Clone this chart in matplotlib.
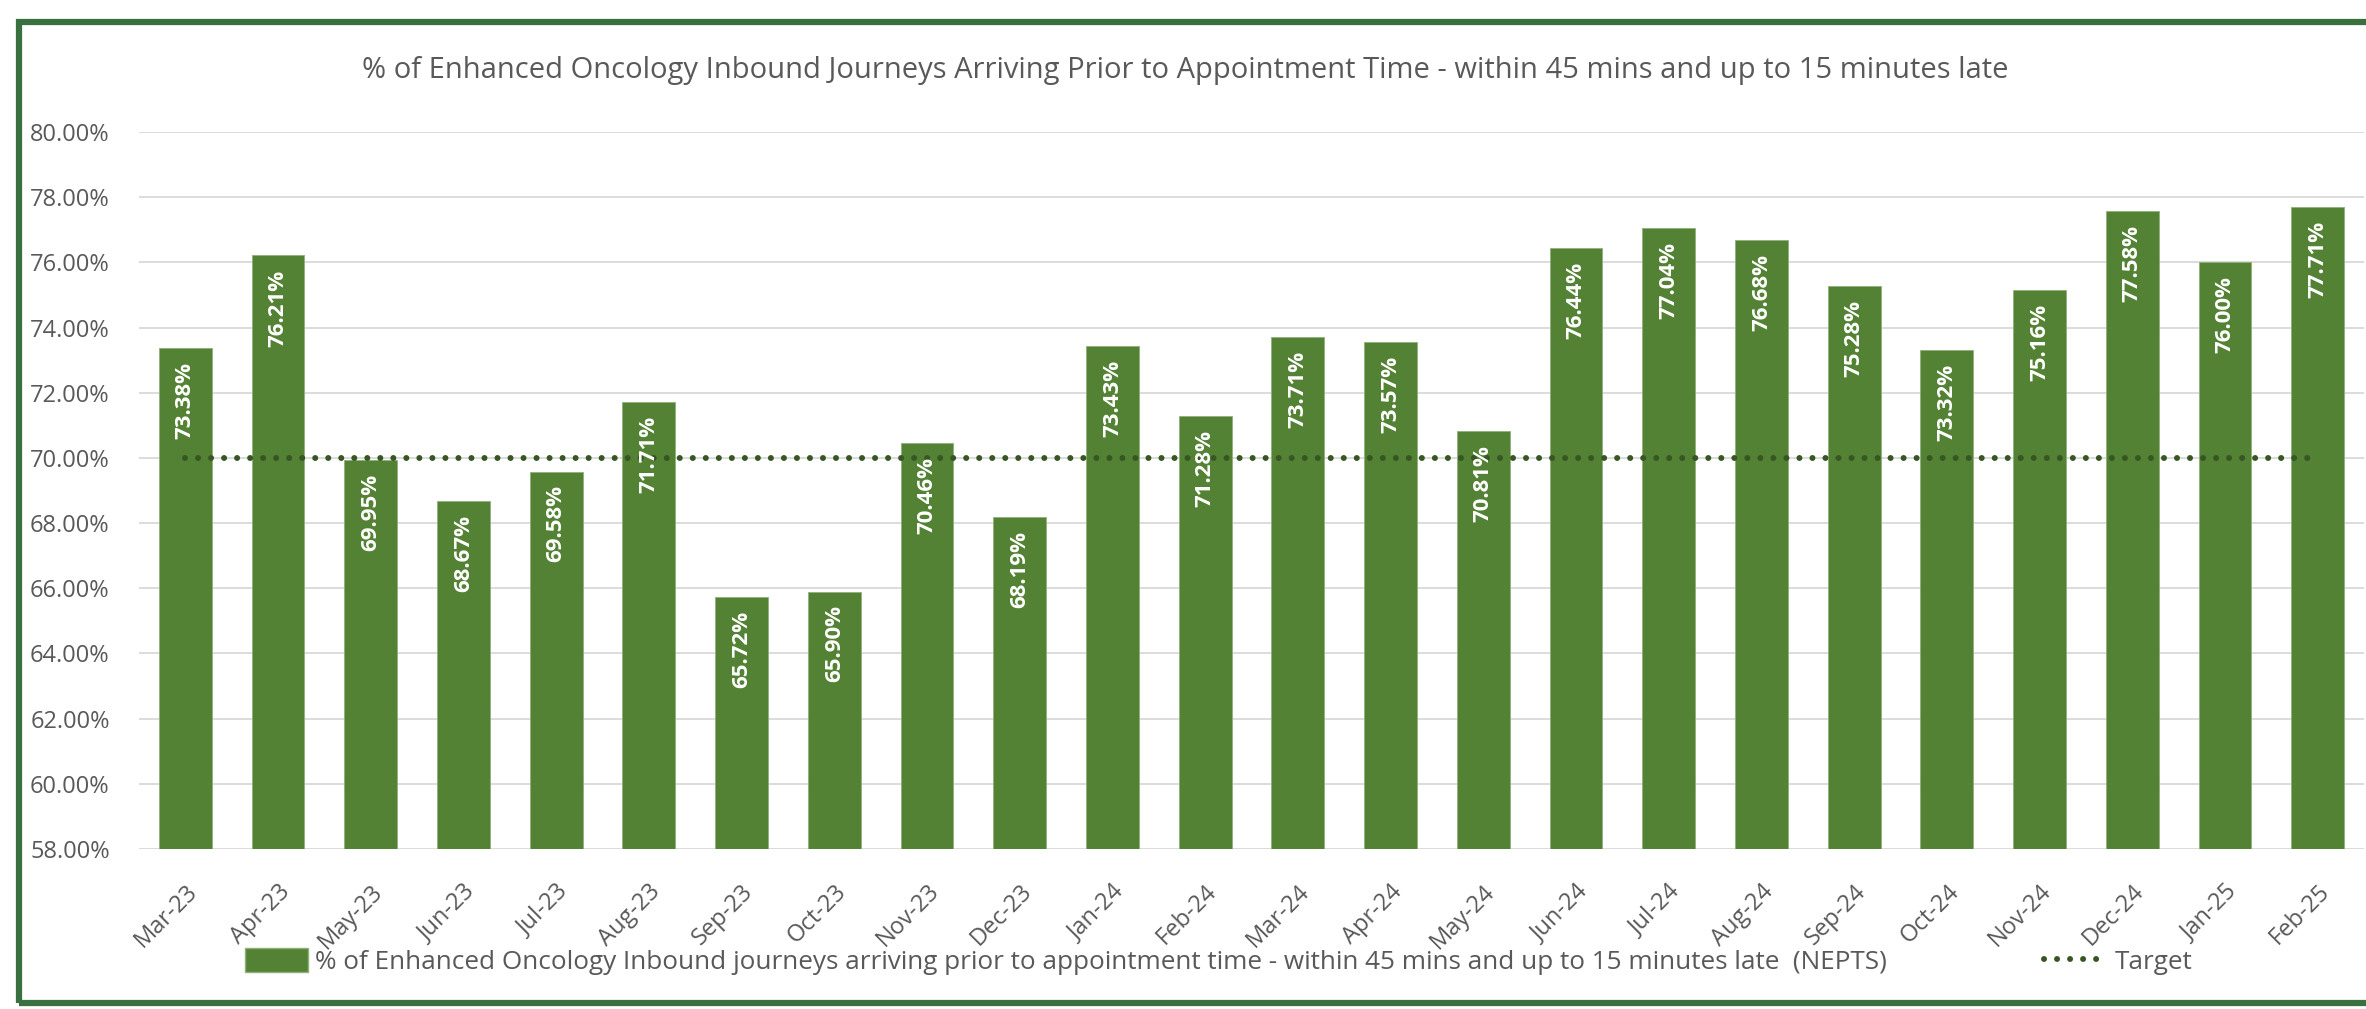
import matplotlib.pyplot as plt
from matplotlib.patches import Rectangle, Patch
from matplotlib.lines import Line2D

plt.rcParams['font.family'] = ['Open Sans', 'DejaVu Sans']

months = ['Mar-23', 'Apr-23', 'May-23', 'Jun-23', 'Jul-23', 'Aug-23', 'Sep-23', 'Oct-23',
          'Nov-23', 'Dec-23', 'Jan-24', 'Feb-24', 'Mar-24', 'Apr-24', 'May-24', 'Jun-24',
          'Jul-24', 'Aug-24', 'Sep-24', 'Oct-24', 'Nov-24', 'Dec-24', 'Jan-25', 'Feb-25']
pct_on_time = [73.38, 76.21, 69.95, 68.67, 69.58, 71.71, 65.72, 65.90,
               70.46, 68.19, 73.43, 71.28, 73.71, 73.57, 70.81, 76.44,
               77.04, 76.68, 75.28, 73.32, 75.16, 77.58, 76.00, 77.71]
target = [70.0] * len(months)
y_ticks = [58, 60, 62, 64, 66, 68, 70, 72, 74, 76, 78, 80]

title = ("% of Enhanced Oncology Inbound Journeys Arriving Prior to Appointment Time "
         "- within 45 mins and up to 15 minutes late")
bar_name = ("% of Enhanced Oncology Inbound journeys arriving prior to appointment time "
            "- within 45 mins and up to 15 minutes late  (NEPTS)")

bar_col = '#548235'
txt_col = '#595959'
dot_style = dict(color='#375623', linewidth=4.3, linestyle=(0, (0.01, 2.17)),
                 dash_capstyle='round')

fig = plt.figure(figsize=(23.66, 10.09), dpi=100)
ax = fig.add_axes([0.0587, 0.1586, 0.9405, 0.7106])

x = list(range(len(months)))
ax.bar(x, pct_on_time, width=0.57, color=bar_col, edgecolor='#8fb07a', linewidth=0.6, zorder=2)
ax.plot(x, target, zorder=3, **dot_style)

# value labels inside the top of each bar
for xi, v in zip(x, pct_on_time):
    ax.annotate(f'{v:.2f}%', (xi, v), xytext=(0, -10), textcoords='offset points',
                rotation=90, ha='center', va='top', color='white',
                fontsize=16, fontweight='bold', zorder=4)

ax.set_xlim(-0.5, len(months) - 0.5)
ax.set_ylim(58, 80)
ax.set_yticks(y_ticks)
ax.set_yticklabels([f'{t:.2f}%' for t in y_ticks])
ax.set_xticks(x)
ax.set_xticklabels(months)
ax.tick_params(axis='y', length=0, pad=21, labelsize=17, labelcolor=txt_col)
ax.tick_params(axis='x', length=0, pad=22, labelsize=17, labelcolor=txt_col)
plt.setp(ax.get_xticklabels(), rotation=45, ha='right', va='top', rotation_mode='anchor')

ax.grid(axis='y', color='#d9d9d9', linewidth=1.3, zorder=0)
ax.set_axisbelow(True)
for s in ax.spines.values():
    s.set_visible(False)

fig.text(0.501, 0.930, title, ha='center', va='center', fontsize=21, color=txt_col)

handles = [Patch(facecolor=bar_col, edgecolor='#8fb07a'), Line2D([0], [0], **dot_style)]
fig.legend(handles, [bar_name, 'Target'], loc='center', bbox_to_anchor=(0.515, 0.047),
           ncol=2, frameon=False, fontsize=18.8, labelcolor=txt_col,
           handlelength=2.4, handleheight=1.05, handletextpad=0.3, columnspacing=6.0)

# outer chart border (right side runs off the image)
fig.patches.append(Rectangle((0.008, 0.006), 1.05, 0.972, transform=fig.transFigure,
                             fill=False, edgecolor='#38703f', linewidth=4.5))

fig.savefig('out.png', dpi=100)
